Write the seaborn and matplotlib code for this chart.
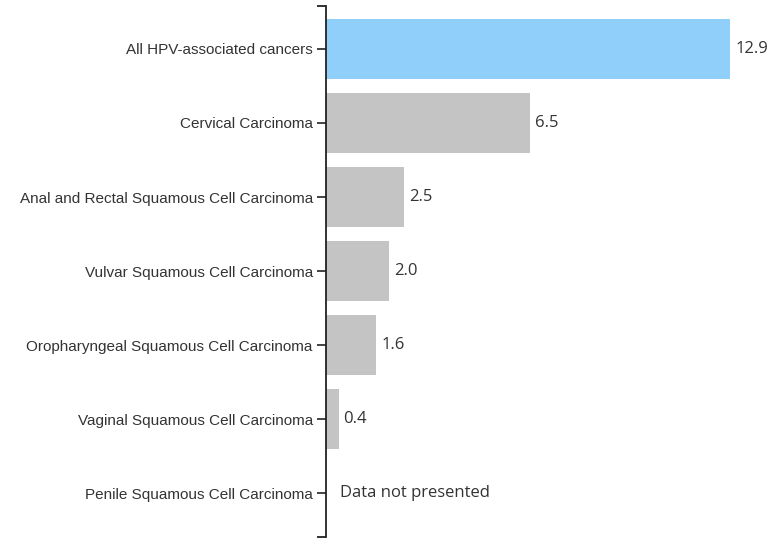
import numpy as np
import pandas as pd
import matplotlib
matplotlib.use("Agg")
import matplotlib.pyplot as plt
import seaborn as sns

categories = [
    "All HPV-associated cancers",
    "Cervical Carcinoma",
    "Anal and Rectal Squamous Cell Carcinoma",
    "Vulvar Squamous Cell Carcinoma",
    "Oropharyngeal Squamous Cell Carcinoma",
    "Vaginal Squamous Cell Carcinoma",
    "Penile Squamous Cell Carcinoma",
]
rates = [12.9, 6.5, 2.5, 2.0, 1.6, 0.4, np.nan]
bar_colors = ["#90cffa", "#c4c4c4", "#c4c4c4", "#c4c4c4", "#c4c4c4", "#c4c4c4", "#c4c4c4"]

df = pd.DataFrame({"category": categories, "rate": rates})

sns.set_style("white")
fig = plt.figure(figsize=(7.8, 5.39), dpi=100)
ax = fig.add_axes([326 / 780, 2 / 539, 444 / 780, 531 / 539])

sns.barplot(data=df, x="rate", y="category", hue="category",
            palette=bar_colors, legend=False, width=0.8, ax=ax,
            saturation=1, edgecolor="none")

ax.set_xlim(0, 444 / 31.35)
ax.set_ylim(6.5 + 7 / 74, -0.5 - 6 / 74)
ax.set_xlabel("")
ax.set_ylabel("")
ax.set_xticks([])

for s in ["top", "right", "bottom"]:
    ax.spines[s].set_visible(False)
ax.spines["left"].set_color("#222222")
ax.spines["left"].set_linewidth(1.3)

ax.tick_params(axis="y", which="both", left=True, length=6.5, width=1.2,
               color="#222222", pad=3, labelsize=11, labelcolor="#333333")
for lab in ax.get_yticklabels():
    lab.set_fontfamily("Liberation Sans")

# outer end ticks of the axis line
for yy in (0, 1):
    ax.plot([-9 / 444, 0], [yy, yy], transform=ax.transAxes, color="#222222",
            lw=1.3, clip_on=False, solid_capstyle="butt")

for i, v in enumerate(rates):
    if np.isnan(v):
        txt, xpos = "Data not presented", 0.45
    else:
        txt, xpos = f"{v:.1f}", v + 0.16
    ax.text(xpos, i, txt, va="center", ha="left", fontsize=12,
            family="Open Sans", color="#333333")

fig.savefig("out.png", dpi=100)
